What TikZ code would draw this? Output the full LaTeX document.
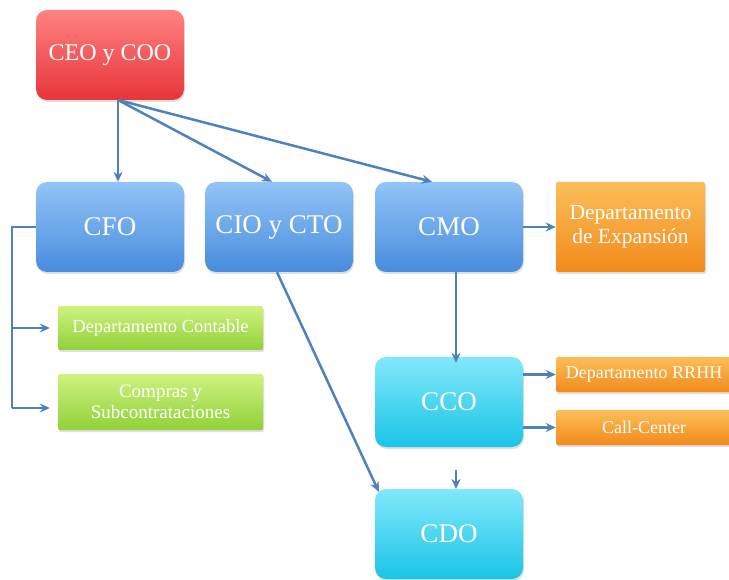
\documentclass[tikz,border=0pt]{standalone}
\usepackage{fontspec}
\setmainfont{Liberation Serif}
\usetikzlibrary{arrows.meta,shadows}
\definecolor{linec}{HTML}{4F81BD}
\tikzset{
  box/.style={rounded corners=11pt, text=white, align=center, inner sep=0pt,
    drop shadow={opacity=0.25, shadow xshift=1pt, shadow yshift=-2pt}},
  bigbox/.style={box, minimum width=148pt, minimum height=90pt, font=\fontsize{27}{30}\selectfont},
  redbox/.style={bigbox, top color={rgb,255:red,255;green,130;blue,130}, bottom color={rgb,255:red,232;green,52;blue,56}, font=\fontsize{24}{28}\selectfont},
  bluebox/.style={bigbox, top color={rgb,255:red,146;green,196;blue,247}, bottom color={rgb,255:red,72;green,140;blue,222}},
  cyanbox/.style={bigbox, top color={rgb,255:red,130;green,232;blue,250}, bottom color={rgb,255:red,26;green,196;blue,232}},
  smallbox/.style={box, rounded corners=2pt},
  orangebox/.style={smallbox, top color={rgb,255:red,252;green,190;blue,90}, bottom color={rgb,255:red,242;green,138;blue,26}},
  greenbox/.style={smallbox, top color={rgb,255:red,206;green,242;blue,128}, bottom color={rgb,255:red,146;green,208;blue,56}},
  conn/.style={draw=linec, line width=2.5pt, -{Stealth[length=10pt,width=9pt]}},
  plain/.style={draw=linec, line width=2.5pt}
}
\begin{document}
\begin{tikzpicture}[x=1pt,y=-1pt]
\useasboundingbox (0,0) rectangle (729,580);
\node[redbox] (ceo) at (110,55) {CEO y COO};
\node[bluebox] (cfo) at (110,227) {CFO};
\node[bluebox] (cio) at (279,227) {CIO y CTO};
\node[bluebox] (cmo) at (449,227) {CMO};
\node[orangebox, minimum width=149pt, minimum height=90pt, font=\fontsize{21.5}{24}\selectfont] (exp) at (630.5,227) {Departamento\\de Expansión};
\node[greenbox, minimum width=205pt, minimum height=44pt, font=\fontsize{18.5}{21}\selectfont] (cont) at (160.5,328) {Departamento Contable};
\node[greenbox, minimum width=205pt, minimum height=56pt, font=\fontsize{19}{21}\selectfont] (comp) at (160.5,402) {Compras y\\Subcontrataciones};
\node[cyanbox] (cco) at (449,402) {CCO};
\node[orangebox, minimum width=176pt, minimum height=35pt, font=\fontsize{18}{21}\selectfont] (rrhh) at (644,374.5) {Departamento RRHH};
\node[orangebox, minimum width=176pt, minimum height=35pt, font=\fontsize{18}{21}\selectfont] (call) at (644,427.5) {Call-Center};
\node[cyanbox] (cdo) at (449,534) {CDO};

\coordinate (ceob) at (118,100);
\draw[conn] (ceob) -- (cfo.north -| ceob);
\draw[conn] (ceob) -- ([xshift=-7pt]cio.north);
\draw[conn] (ceob) -- ([xshift=-17pt]cmo.north);

\coordinate (fl) at (12,227);
\draw[plain] (cfo.west) -- (fl) -- (12,408);
\draw[conn] (12,328) -- ([xshift=-8pt]cont.west);
\draw[conn] (12,408) -- ([xshift=-8pt]comp.west |- 0,408);

\draw[conn] ([xshift=-2pt]cio.south) -- ([xshift=4pt,yshift=-3pt]cdo.north west);
\draw[conn] (cmo.east) -- (exp.west);
\draw[conn] ([xshift=7pt]cmo.south) -- ([xshift=7pt,yshift=-6pt]cco.north);
\draw[conn] (cco.east |- rrhh) -- (rrhh.west);
\draw[conn] (cco.east |- call) -- (call.west);
\draw[conn] (456,470) -- (456,489);
\end{tikzpicture}
\end{document}
